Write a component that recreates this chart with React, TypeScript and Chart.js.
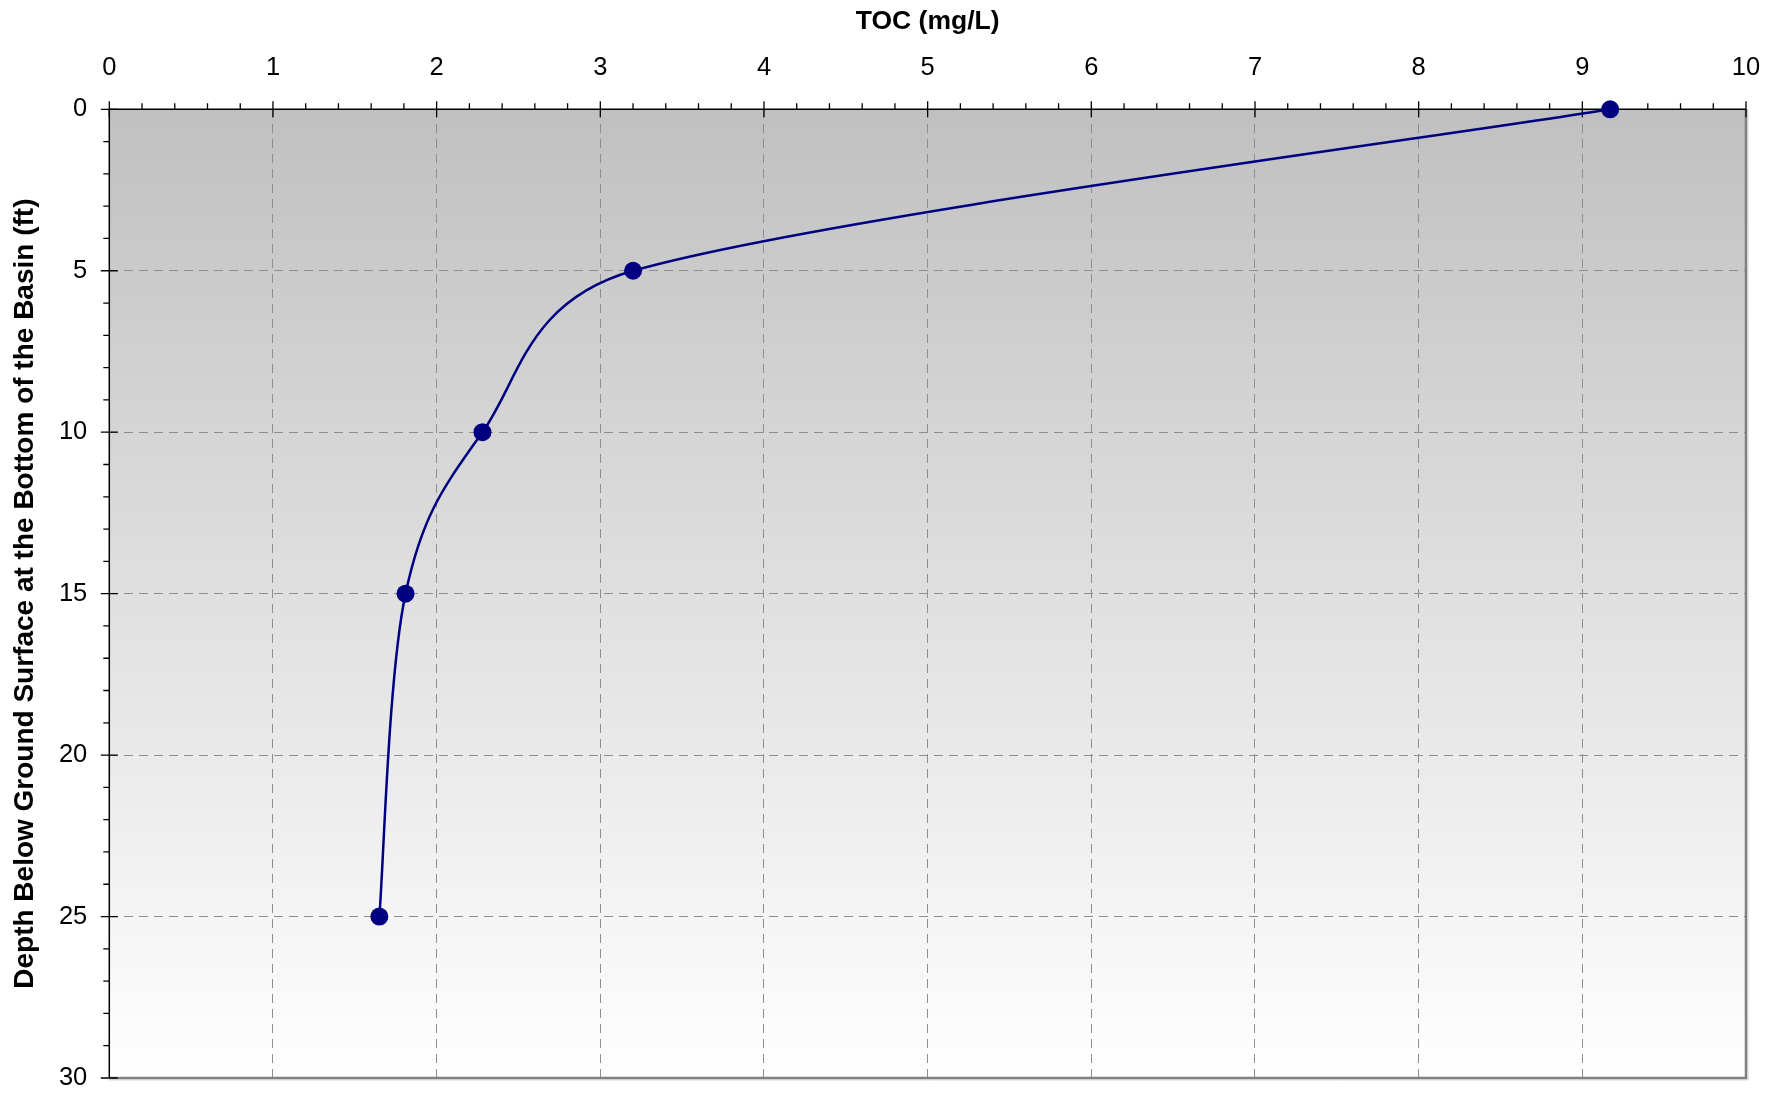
import React, { useEffect, useRef } from "react";
import { Chart, registerables } from "chart.js";

Chart.register(...registerables);

// Data
const tocValues = [9.17, 3.2, 2.28, 1.81, 1.65];
const depthValues = [0, 5, 10, 15, 25];

const xTitle = "TOC (mg/L)";
const yTitle = "Depth Below Ground Surface at the Bottom of the Basin (ft)";
const xRange = [0, 10];
const yRange = [0, 30];
const xMajorStep = 1;
const xMinorStep = 0.2;
const yMajorStep = 5;
const yMinorStep = 1;

const FONT = '"Liberation Sans", Arial, Helvetica, sans-serif';

// Spreadsheet-style smoothing: tangent (P[i+1]-P[i-1]) scaled by 1/6,
// arm capped at half the adjacent segment length.
const smoothPlugin = {
  id: "sheetSmooth",
  beforeDatasetsDraw(chart: any) {
    const meta = chart.getDatasetMeta(0);
    const line: any = meta.dataset;
    const pts: any[] = meta.data;
    if (!line || !pts.length) return;
    line.updateControlPoints(chart.chartArea, "x");
    for (let i = 0; i < pts.length; i++) {
      const p = pts[i];
      const prev = pts[i - 1] || p;
      const next = pts[i + 1] || p;
      const tx = next.x - prev.x;
      const ty = next.y - prev.y;
      const len = Math.hypot(tx, ty);
      if (len === 0) continue;
      const dPrev = Math.hypot(p.x - prev.x, p.y - prev.y);
      const dNext = Math.hypot(next.x - p.x, next.y - p.y);
      const aPrev = Math.min(len / 6, dPrev / 2) / len;
      const aNext = Math.min(len / 6, dNext / 2) / len;
      p.cp1x = p.x - aPrev * tx;
      p.cp1y = p.y - aPrev * ty;
      p.cp2x = p.x + aNext * tx;
      p.cp2y = p.y + aNext * ty;
    }
    line._path = undefined;
  },
};

const framePlugin = {
  id: "frame",
  beforeDraw(chart: any) {
    const { ctx, chartArea: a } = chart;
    const g = ctx.createLinearGradient(0, a.top, 0, a.bottom);
    g.addColorStop(0, "#c0c0c0");
    g.addColorStop(1, "#ffffff");
    ctx.save();
    ctx.fillStyle = g;
    ctx.fillRect(a.left, a.top, a.right - a.left, a.bottom - a.top);
    ctx.restore();
  },
  beforeDatasetsDraw(chart: any) {
    const { ctx, chartArea: a, scales } = chart;
    const x = scales.x;
    const y = scales.y;
    ctx.save();
    // light shadow
    ctx.strokeStyle = "#d8d8d8";
    ctx.lineWidth = 1;
    ctx.beginPath();
    ctx.moveTo(a.right + 2, a.top);
    ctx.lineTo(a.right + 2, a.bottom + 2);
    ctx.lineTo(a.left, a.bottom + 2);
    ctx.stroke();
    // right / bottom grey frame
    ctx.strokeStyle = "#808080";
    ctx.lineWidth = 2.5;
    ctx.beginPath();
    ctx.moveTo(a.right, a.top);
    ctx.lineTo(a.right, a.bottom);
    ctx.lineTo(a.left, a.bottom);
    ctx.stroke();
    // left / top black frame
    ctx.strokeStyle = "#000000";
    ctx.lineWidth = 1.5;
    ctx.beginPath();
    ctx.moveTo(a.left, a.bottom);
    ctx.lineTo(a.left, a.top);
    ctx.lineTo(a.right, a.top);
    ctx.stroke();
    // ticks
    ctx.lineWidth = 1.3;
    ctx.beginPath();
    const nx = Math.round((xRange[1] - xRange[0]) / xMinorStep);
    const perX = Math.round(xMajorStep / xMinorStep);
    for (let i = 0; i <= nx; i++) {
      const v = xRange[0] + i * xMinorStep;
      const px = x.getPixelForValue(v);
      const major = i % perX === 0;
      ctx.moveTo(px, a.top - (major ? 8 : 6));
      ctx.lineTo(px, a.top + (major ? 8 : 0));
    }
    const ny = Math.round((yRange[1] - yRange[0]) / yMinorStep);
    const perY = Math.round(yMajorStep / yMinorStep);
    for (let i = 0; i <= ny; i++) {
      const v = yRange[0] + i * yMinorStep;
      const py = y.getPixelForValue(v);
      const major = i % perY === 0;
      ctx.moveTo(a.left - (major ? 8.5 : 6), py);
      ctx.lineTo(a.left + (major ? 8.5 : 0), py);
    }
    ctx.stroke();
    ctx.restore();
  },
};

export default function App() {
  const ref = useRef<HTMLCanvasElement | null>(null);

  useEffect(() => {
    if (!ref.current) return;
    const data = tocValues.map((v, i) => ({ x: v, y: depthValues[i] }));
    const chart = new Chart(ref.current, {
      type: "line",
      data: {
        datasets: [
          {
            data,
            borderColor: "#000080",
            backgroundColor: "#000080",
            borderWidth: 2.5,
            pointRadius: 9,
            pointBorderWidth: 0,
            pointBackgroundColor: "#000080",
            tension: 0.4,
            capBezierPoints: false,
            fill: false,
            clip: false as any,
          },
        ],
      },
      options: {
        animation: false,
        responsive: false,
        maintainAspectRatio: false,
        layout: { padding: { left: 0, top: 0, right: 37, bottom: 15 } },
        plugins: {
          legend: { display: false },
          tooltip: { enabled: false },
        },
        scales: {
          x: {
            type: "linear",
            position: "top",
            min: xRange[0],
            max: xRange[1],
            afterFit: (s: any) => {
              s.height = 109.3;
              s.paddingLeft = 0;
              s.paddingRight = 0;
              s.paddingTop = 0;
              s.paddingBottom = 0;
            },
            ticks: {
              stepSize: xMajorStep,
              color: "#000",
              font: { family: FONT, size: 25.5 },
              padding: 26,
            },
            grid: {
              color: "#8e8e8e",
              lineWidth: 1,
              drawTicks: false,
            },
            border: { display: false, dash: [9, 6] },
            title: {
              display: true,
              text: xTitle,
              color: "#000",
              font: { family: FONT, size: 26.5, weight: "bold" },
              padding: { top: 5.5, bottom: 0 },
            },
          },
          y: {
            type: "linear",
            reverse: true,
            min: yRange[0],
            max: yRange[1],
            afterFit: (s: any) => {
              s.width = 109.3;
              s.paddingLeft = 0;
              s.paddingRight = 0;
              s.paddingTop = 0;
              s.paddingBottom = 0;
            },
            ticks: {
              stepSize: yMajorStep,
              color: "#000",
              font: { family: FONT, size: 25.5 },
              padding: 22,
            },
            grid: {
              color: "#8e8e8e",
              lineWidth: 1,
              drawTicks: false,
            },
            border: { display: false, dash: [9, 6] },
            title: {
              display: true,
              text: yTitle,
              color: "#000",
              font: { family: FONT, size: 28, weight: "bold" },
              padding: { top: 8, bottom: 0 },
            },
          },
        },
      } as any,
      plugins: [framePlugin, smoothPlugin],
    });
    return () => chart.destroy();
  }, []);

  return (
    <div style={{ position: "fixed", left: 0, top: 0, width: 1783, height: 1093, background: "#fff" }}>
      <canvas ref={ref} width={1783} height={1093} style={{ display: "block" }} />
    </div>
  );
}
